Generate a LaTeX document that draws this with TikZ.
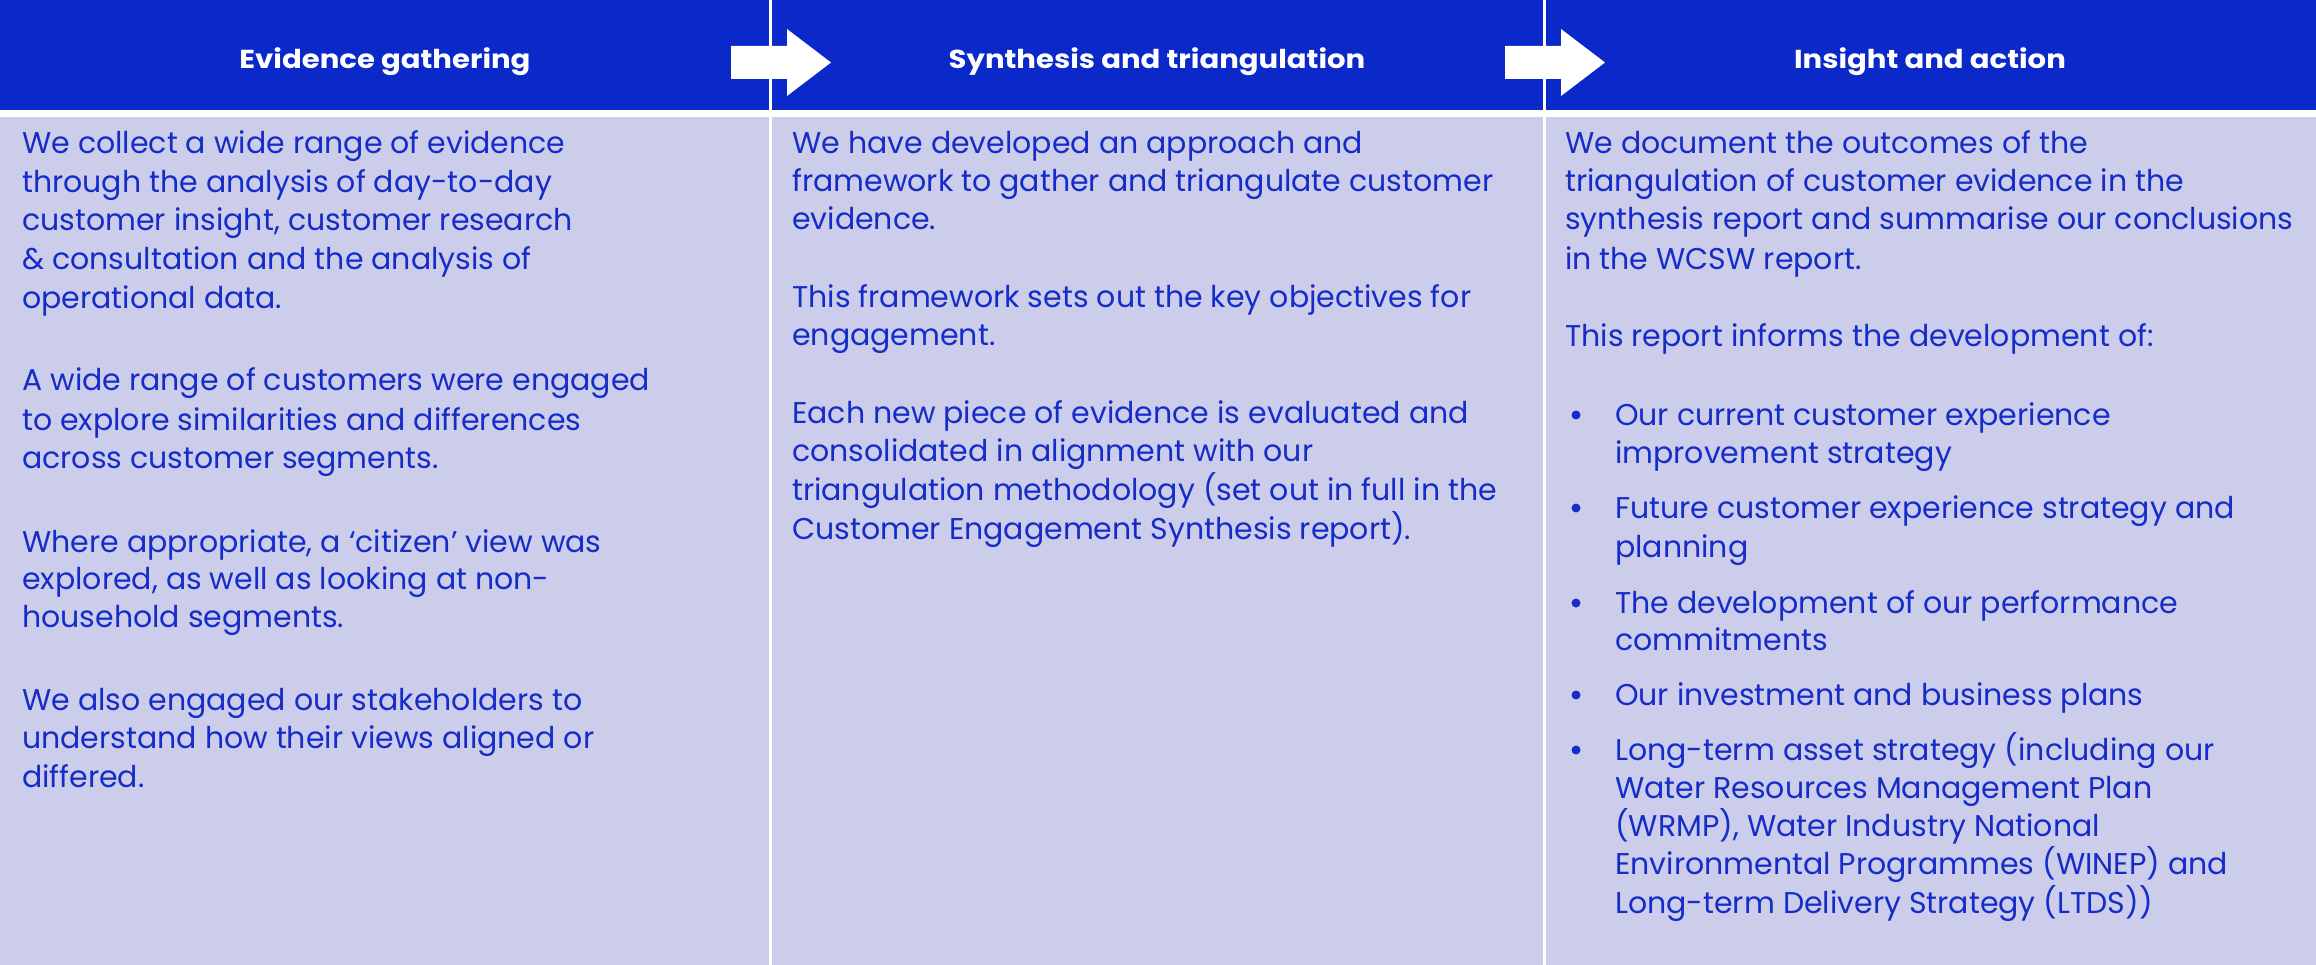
\documentclass[tikz,border=0pt]{standalone}
\usepackage{fontspec}
\setmainfont{Poppins}
\newfontfamily\hdrfont[FakeStretch=1.12]{Poppins}
\definecolor{hdrblue}{RGB}{11,40,200}
\definecolor{txtblue}{RGB}{22,44,200}
\definecolor{panel}{RGB}{204,205,234}
\tikzset{
  hdr/.style={text=white, font=\hdrfont\fontsize{26}{30}\selectfont\bfseries, anchor=base, inner sep=0pt},
  bodytxt/.style={text=txtblue, font=\fontsize{30}{38}\selectfont, anchor=base west, inner sep=0pt},
  bulletdot/.style={circle, fill=txtblue, inner sep=0pt, minimum size=9pt},
  blockarrow/.style={fill=white}
}
\begin{document}
\begin{tikzpicture}[x=1pt,y=-1pt]
\useasboundingbox (0,0) rectangle (2316,965);
% backgrounds
\fill[white] (0,0) rectangle (2316,965);
\fill[hdrblue] (0,0) rectangle (2316,110);
\fill[panel] (0,117) rectangle (2316,965);
% dividers
\draw[white, line width=3pt] (770,0) -- (770,965);
\draw[white, line width=3pt] (1544,0) -- (1544,965);
% arrows
\fill[blockarrow] (731,46) -- (787,46) -- (787,29) -- (831,62.5) -- (787,96) -- (787,79) -- (731,79) -- cycle;
\fill[blockarrow] (1505,46) -- (1561,46) -- (1561,29) -- (1605,62.5) -- (1561,96) -- (1561,79) -- (1505,79) -- cycle;
% headers
\node[hdr] (h1) at (385,69) {Evidence gathering};
\node[hdr] (h2) at (1157,69) {Synthesis and triangulation};
\node[hdr] (h3) at (1930,69) {Insight and action};
% column 1
\foreach \y/\t [count=\i] in {
  154/{We collect a wide range of evidence},
  193/{through the analysis of day-to-day},
  231/{customer insight, customer research},
  270/{\& consultation and the analysis of},
  309/{operational data.},
  391/{A wide range of customers were engaged},
  430/{to explore similarities and differences},
  468/{across customer segments.},
  552/{Where appropriate, a ‘citizen’ view was},
  589/{explored, as well as looking at non-},
  627/{household segments.},
  710/{We also engaged our stakeholders to},
  748/{understand how their views aligned or},
  787/{differed.}}
  \node[bodytxt] (a\i) at (22,\y) {\t};
% column 2
\foreach \y/\t [count=\i] in {
  154/{We have developed an approach and},
  192/{framework to gather and triangulate customer},
  230/{evidence.},
  308/{This framework sets out the key objectives for},
  346/{engagement.},
  424/{Each new piece of evidence is evaluated and},
  461/{consolidated in alignment with our},
  500/{triangulation methodology (set out in full in the},
  539/{Customer Engagement Synthesis report).}}
  \node[bodytxt] (b\i) at (792,\y) {\t};
% column 3
\foreach \y/\t [count=\i] in {
  154/{We document the outcomes of the},
  192/{triangulation of customer evidence in the},
  230/{synthesis report and summarise our conclusions},
  270/{in the WCSW report.},
  347/{This report informs the development of:}}
  \node[bodytxt] (c\i) at (1565,\y) {\t};
\foreach \y/\t [count=\i] in {
  425/{Our current customer experience},
  463/{improvement strategy},
  518/{Future customer experience strategy and},
  557/{planning},
  613/{The development of our performance},
  650/{commitments},
  705/{Our investment and business plans},
  760/{Long-term asset strategy (including our},
  798/{Water Resources Management Plan},
  836/{(WRMP), Water Industry National},
  874/{Environmental Programmes (WINEP) and},
  913/{Long-term Delivery Strategy (LTDS))}}
  \node[bodytxt] (d\i) at (1615,\y) {\t};
\foreach \y [count=\i] in {415,508,603,695,750}
  \node[bulletdot] (dot\i) at (1576,\y) {};
\end{tikzpicture}
\end{document}
